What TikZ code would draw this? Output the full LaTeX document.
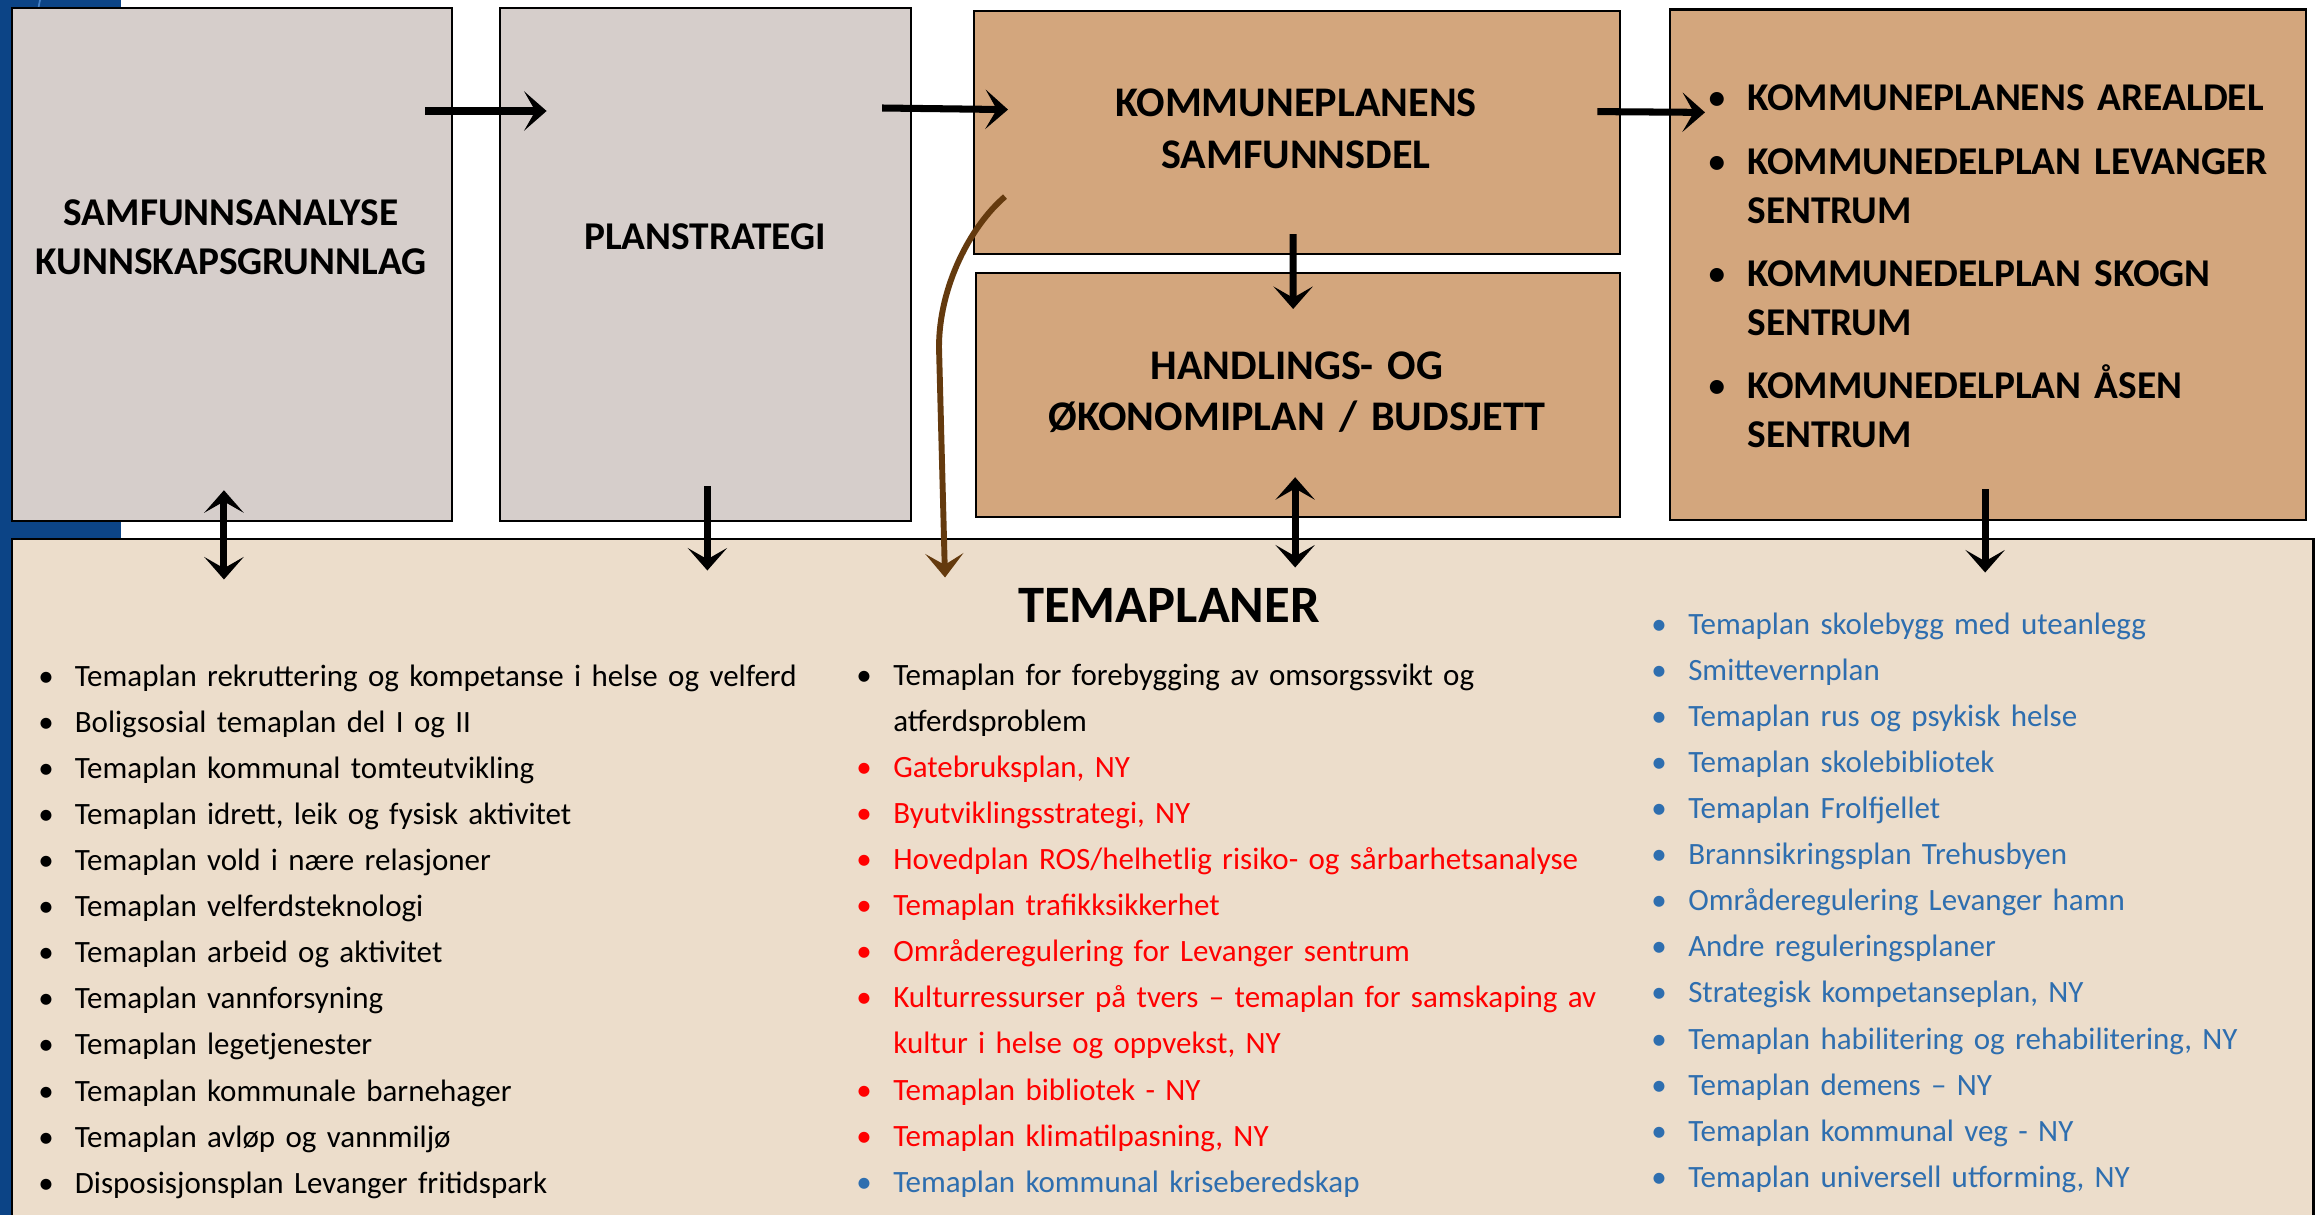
\documentclass[tikz,border=0pt]{standalone}
\usepackage{fontspec}
\setmainfont{Carlito}
\usepackage{xcolor}
\usepackage{tikz}
\usetikzlibrary{arrows.meta, calc, positioning}
\definecolor{bgblue}{RGB}{12,68,134}
\definecolor{bgline}{RGB}{70,130,200}
\definecolor{greyfill}{RGB}{214,206,203}
\definecolor{tanfill}{RGB}{211,166,125}
\definecolor{palefill}{RGB}{236,221,203}
\definecolor{nyred}{RGB}{255,0,0}
\definecolor{oldblue}{RGB}{46,110,175}
\definecolor{brownarr}{RGB}{100,58,14}
\newlength\tpind
\newcommand{\tpbullet}{\textbullet}
\newcommand{\tpitem}[2][black]{\noindent\hangindent=\tpind\hangafter=1{\color{#1}\makebox[\tpind][l]{\tpbullet}#2}\par}
\tikzstyle{basebox} = [rectangle, draw=black, line width=1.5pt, inner sep=0pt, anchor=north west]
\tikzstyle{greybox} = [basebox, fill=greyfill]
\tikzstyle{tanbox} = [basebox, fill=tanfill]
\tikzstyle{themebox} = [basebox, fill=palefill]
\tikzstyle{boxlabel} = [font=\fontsize{28}{35.5}\selectfont\bfseries, text width=440pt, align=center, anchor=base, inner sep=0pt]
\tikzstyle{plist} = [font=\fontsize{22.05}{32.8}\selectfont, text width=560pt, align=left, anchor=base west, inner sep=0pt]
\tikzstyle{arrow} = [line width=5pt, -{Stealth[length=16pt, width=28pt, inset=8pt]}]
\tikzstyle{dblarrow} = [line width=5pt, {Stealth[length=16pt, width=28pt, inset=8pt]}-{Stealth[length=16pt, width=28pt, inset=8pt]}]
\tikzstyle{curvearrow} = [brownarr, line width=4.2pt, -{Stealth[length=17pt, width=27pt, inset=8pt]}]

\begin{document}
\begin{tikzpicture}[x=0.025cm, y=-0.025cm]
    \useasboundingbox (0,0) rectangle (2315,1215);
    \clip (0,0) rectangle (2315,1215);
    % Background
    \fill [bgblue] (0,0) rectangle (120.5,1215);
    \draw [bgline, line width=1.2pt] (40,0) .. controls (10,150) and (5,300) .. (30,470);
    \draw [bgline, line width=1.2pt] (38,492) -- (48,465);
    % Nodes
    \node (samf_box) [greybox, minimum width=313.2pt, minimum height=364.9pt] at (10.7,7) {};
    \node (plan_box) [greybox, minimum width=292.6pt, minimum height=364.9pt] at (498.6,7) {};
    \node (ksam_box) [tanbox, minimum width=459.5pt, minimum height=173.1pt] at (973,9.6) {};
    \node (hand_box) [tanbox, minimum width=458.1pt, minimum height=173.6pt] at (975,272) {};
    \node (areal_box) [tanbox, minimum width=452.4pt, minimum height=363.2pt] at (1669,8.4) {};
    \node (tema_box) [themebox, minimum width=1636.8pt, minimum height=512pt] at (10.7,537.5) {};
    \node (samf_txt) [boxlabel] at (231,225) {SAMFUNNSANALYSE\\KUNNSKAPSGRUNNLAG};
    \node (plan_txt) [boxlabel] at (705,249) {PLANSTRATEGI};
    \node (ksam_txt) [boxlabel, font=\fontsize{30}{36.3}\selectfont\bfseries] at (1296,117) {KOMMUNEPLANENS\\SAMFUNNSDEL};
    \node (hand_txt) [boxlabel, font=\fontsize{30}{36.3}\selectfont\bfseries] at (1297,379) {HANDLINGS- OG\\ØKONOMIPLAN / BUDSJETT};
    \node (areal_txt) [plist, font=\fontsize{28}{34.5}\selectfont\bfseries] at (1707,111) {%
        \setlength\tpind{28.5pt}\setlength\parskip{10.7pt}%
        \renewcommand{\tpbullet}{{\mdseries\textbullet}}%
        \tpitem{KOMMUNEPLANENS AREALDEL}
        \tpitem{KOMMUNEDELPLAN LEVANGER\newline SENTRUM}
        \tpitem{KOMMUNEDELPLAN SKOGN\newline SENTRUM}
        \tpitem{KOMMUNEDELPLAN ÅSEN\newline SENTRUM}};
    \node (tema_title) [boxlabel, font=\fontsize{37.4}{44}\selectfont\bfseries] at (1169,622) {TEMAPLANER};
    \node (left_list) [plist] at (38,686) {%
        \setlength\tpind{26pt}%
        \tpitem{Temaplan rekruttering og kompetanse i helse og velferd}
        \tpitem{Boligsosial temaplan del I og II}
        \tpitem{Temaplan kommunal tomteutvikling}
        \tpitem{Temaplan idrett, leik og fysisk aktivitet}
        \tpitem{Temaplan vold i nære relasjoner}
        \tpitem{Temaplan velferdsteknologi}
        \tpitem{Temaplan arbeid og aktivitet}
        \tpitem{Temaplan vannforsyning}
        \tpitem{Temaplan legetjenester}
        \tpitem{Temaplan kommunale barnehager}
        \tpitem{Temaplan avløp og vannmiljø}
        \tpitem{Disposisjonsplan Levanger fritidspark}};
    \node (mid_list) [plist] at (856,685) {%
        \setlength\tpind{26.3pt}%
        \tpitem{Temaplan for forebygging av omsorgssvikt og\newline atferdsproblem}
        \tpitem[nyred]{Gatebruksplan, NY}
        \tpitem[nyred]{Byutviklingsstrategi, NY}
        \tpitem[nyred]{Hovedplan ROS/helhetlig risiko- og sårbarhetsanalyse}
        \tpitem[nyred]{Temaplan trafikksikkerhet}
        \tpitem[nyred]{Områderegulering for Levanger sentrum}
        \tpitem[nyred]{Kulturressurser på tvers – temaplan for samskaping av\newline kultur i helse og oppvekst, NY}
        \tpitem[nyred]{Temaplan bibliotek - NY}
        \tpitem[nyred]{Temaplan klimatilpasning, NY}
        \tpitem[oldblue]{Temaplan kommunal kriseberedskap}};
    \node (right_list) [plist] at (1651,634) {%
        \setlength\tpind{26.3pt}%
        \tpitem[oldblue]{Temaplan skolebygg med uteanlegg}
        \tpitem[oldblue]{Smittevernplan}
        \tpitem[oldblue]{Temaplan rus og psykisk helse}
        \tpitem[oldblue]{Temaplan skolebibliotek}
        \tpitem[oldblue]{Temaplan Frolfjellet}
        \tpitem[oldblue]{Brannsikringsplan Trehusbyen}
        \tpitem[oldblue]{Områderegulering Levanger hamn}
        \tpitem[oldblue]{Andre reguleringsplaner}
        \tpitem[oldblue]{Strategisk kompetanseplan, NY}
        \tpitem[oldblue]{Temaplan habilitering og rehabilitering, NY}
        \tpitem[oldblue]{Temaplan demens – NY}
        \tpitem[oldblue]{Temaplan kommunal veg - NY}
        \tpitem[oldblue]{Temaplan universell utforming, NY}};
    % Arrows
    \draw [arrow] ($(samf_box.north east)+(-28,104)$) -- ($(plan_box.north west)+(48,104)$);
    \draw [arrow] ($(plan_box.north east)+(-30,101)$) -- ($(ksam_box.north west)+(35,100)$);
    \draw [arrow] ($(ksam_box.north east)+(-24,102)$) -- ($(areal_box.north west)+(36,104)$);
    \draw [arrow] ($(ksam_box.south)+(-4,-21)$) -- ($(hand_box.north)+(-5,37)$);
    \draw [dblarrow] ($(samf_box.south)+(-8,-32)$) -- ($(samf_box.south |- tema_box.north)+(-8,42)$);
    \draw [arrow] ($(plan_box.south)+(2,-36)$) -- ($(plan_box.south |- tema_box.north)+(2,33)$);
    \draw [dblarrow] ($(hand_box.south)+(-3,-41)$) -- ($(hand_box.south |- tema_box.north)+(-3,30)$);
    \draw [arrow] ($(areal_box.south)+(-3,-32)$) -- ($(areal_box.south |- tema_box.north)+(-3,35)$);
    \draw [curvearrow] ($(ksam_box.north west)+(32,187)$) .. controls +(-35,30) and +(0,-60) .. ($(ksam_box.south west)+(-34,92)$) -- ($(ksam_box.south west |- tema_box.north)+(-28,40)$);
\end{tikzpicture}
\end{document}
